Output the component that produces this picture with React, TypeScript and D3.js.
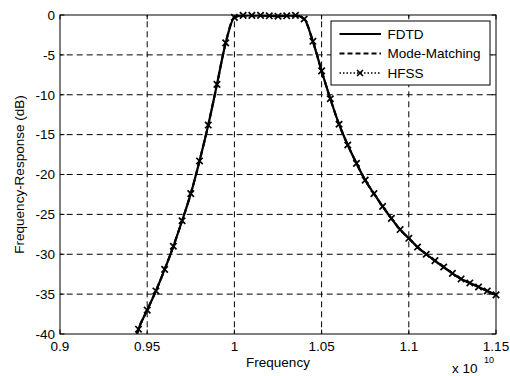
import React from "react";
import * as d3 from "d3";

// Frequency in units of 1e10 Hz
const freq = [0.945,0.95,0.955,0.96,0.965,0.97,0.975,0.98,0.985,0.99,0.995,1.0,1.005,1.01,1.015,1.02,1.025,1.03,1.035,1.04,1.045,1.05,1.055,1.06,1.065,1.07,1.075,1.08,1.085,1.09,1.095,1.1,1.105,1.11,1.115,1.12,1.125,1.13,1.135,1.14,1.145,1.15];
const hfss = [-39.4,-37.0,-34.6,-31.9,-29.0,-25.8,-22.4,-18.3,-13.8,-8.7,-3.5,-0.3,-0.05,-0.05,-0.05,-0.1,-0.15,-0.1,-0.05,-0.5,-3.3,-7.0,-10.5,-13.7,-16.3,-18.6,-20.7,-22.4,-24.0,-25.5,-26.9,-28.0,-29.1,-30.0,-30.8,-31.6,-32.4,-33.1,-33.6,-34.1,-34.6,-35.1];
const lineFreq = [0.944, ...freq];
const fdtd = [-40.1, ...hfss];
const modeMatching = [-40.1, ...hfss];

const xTicks = [0.9, 0.95, 1.0, 1.05, 1.1, 1.15];
const xTickLabels = ["0.9", "0.95", "1", "1.05", "1.1", "1.15"];
const yTicks = [0, -5, -10, -15, -20, -25, -30, -35, -40];
const legendLabels = ["FDTD", "Mode-Matching", "HFSS"];

const W = 510, H = 376;
const L = 60, R = 496, T = 15, B = 334;
const FONT = "'Liberation Sans', Arial, sans-serif";
const FS = 13.5;

export default function App() {
  const x = d3.scaleLinear().domain([0.9, 1.15]).range([L, R]);
  const y = d3.scaleLinear().domain([-40, 0]).range([B, T]);
  const line = d3.line<number>()
    .x((_, i) => x(lineFreq[i]))
    .y((d) => y(d))
    .curve(d3.curveMonotoneX);
  const lineH = d3.line<number>()
    .x((_, i) => x(freq[i]))
    .y((d) => y(d))
    .curve(d3.curveMonotoneX);
  const tick = 4.4;
  const xm = (cx: number, cy: number, s: number, key: any) => (
    <path key={key} d={`M${cx - s},${cy - s}L${cx + s},${cy + s}M${cx - s},${cy + s}L${cx + s},${cy - s}`} stroke="#000" strokeWidth={1.7} fill="none" />
  );
  return (
    <svg width={W} height={H} style={{ position: "absolute", left: 0, top: 0, background: "#fff" }}>
      <rect x={0} y={0} width={W} height={H} fill="#fff" />
      <defs>
        <clipPath id="plotclip">
          <rect x={L} y={T} width={R - L} height={B - T} />
        </clipPath>
      </defs>
      {/* grid */}
      {xTicks.slice(1, -1).map((t) => (
        <line key={"gx" + t} x1={x(t)} x2={x(t)} y1={B} y2={T} stroke="#000" strokeWidth={1} strokeDasharray="6,4" strokeDashoffset={3.3} />
      ))}
      {yTicks.slice(1, -1).map((t) => (
        <line key={"gy" + t} x1={L} x2={R} y1={y(t)} y2={y(t)} stroke="#000" strokeWidth={1} strokeDasharray="6,4" strokeDashoffset={3.3} />
      ))}
      {/* ticks */}
      {xTicks.map((t) => (
        <g key={"tx" + t}>
          <line x1={x(t)} x2={x(t)} y1={B} y2={B - tick} stroke="#000" />
          <line x1={x(t)} x2={x(t)} y1={T} y2={T + tick} stroke="#000" />
        </g>
      ))}
      {yTicks.map((t) => (
        <g key={"ty" + t}>
          <line x1={L} x2={L + tick} y1={y(t)} y2={y(t)} stroke="#000" />
          <line x1={R} x2={R - tick} y1={y(t)} y2={y(t)} stroke="#000" />
        </g>
      ))}
      {/* data */}
      <g clipPath="url(#plotclip)">
        <path d={line(fdtd) || ""} fill="none" stroke="#000" strokeWidth={2.2} />
        <path d={line(modeMatching) || ""} fill="none" stroke="#000" strokeWidth={2.2} strokeDasharray="6,4" />
        <path d={lineH(hfss) || ""} fill="none" stroke="#000" strokeWidth={1.5} strokeDasharray="1.5,2" />
      </g>
      {hfss.map((v, i) => xm(x(freq[i]), y(v), 3.2, "m" + i))}
      {/* axes box */}
      <rect x={L} y={T} width={R - L} height={B - T} fill="none" stroke="#000" strokeWidth={1} />
      {/* tick labels */}
      {xTicks.map((t, i) => (
        <text key={"lx" + t} x={x(t)} y={351} textAnchor="middle" fontFamily={FONT} fontSize={FS}>{xTickLabels[i]}</text>
      ))}
      {yTicks.map((t) => (
        <text key={"ly" + t} x={55} y={y(t) + 4.8} textAnchor="end" fontFamily={FONT} fontSize={FS}>{String(t)}</text>
      ))}
      {/* axis labels */}
      <text x={(L + R) / 2} y={367} textAnchor="middle" fontFamily={FONT} fontSize={FS}>Frequency</text>
      <text transform={`translate(24,${(T + B) / 2}) rotate(-90)`} textAnchor="middle" fontFamily={FONT} fontSize={FS}>Frequency-Response (dB)</text>
      <text x={452} y={373} fontFamily={FONT} fontSize={FS}>x 10</text>
      <text x={484} y={363} fontFamily={FONT} fontSize={9}>10</text>
      {/* legend */}
      <rect x={331} y={21} width={159} height={64} fill="#fff" stroke="#000" strokeWidth={1} />
      {legendLabels.map((lab, i) => {
        const ly = 34 + i * 19.5;
        return (
          <g key={lab}>
            {i === 0 && <line x1={339.5} x2={381} y1={ly} y2={ly} stroke="#000" strokeWidth={2} />}
            {i === 1 && <line x1={339.5} x2={381} y1={ly} y2={ly} stroke="#000" strokeWidth={2} strokeDasharray="5,3" />}
            {i === 2 && <line x1={339.5} x2={381} y1={ly} y2={ly} stroke="#000" strokeWidth={1.5} strokeDasharray="1.5,2" />}
            {i === 2 && xm(360, ly, 3, "lm")}
            <text x={387.5} y={ly + 4.8} fontFamily={FONT} fontSize={FS}>{lab}</text>
          </g>
        );
      })}
    </svg>
  );
}
